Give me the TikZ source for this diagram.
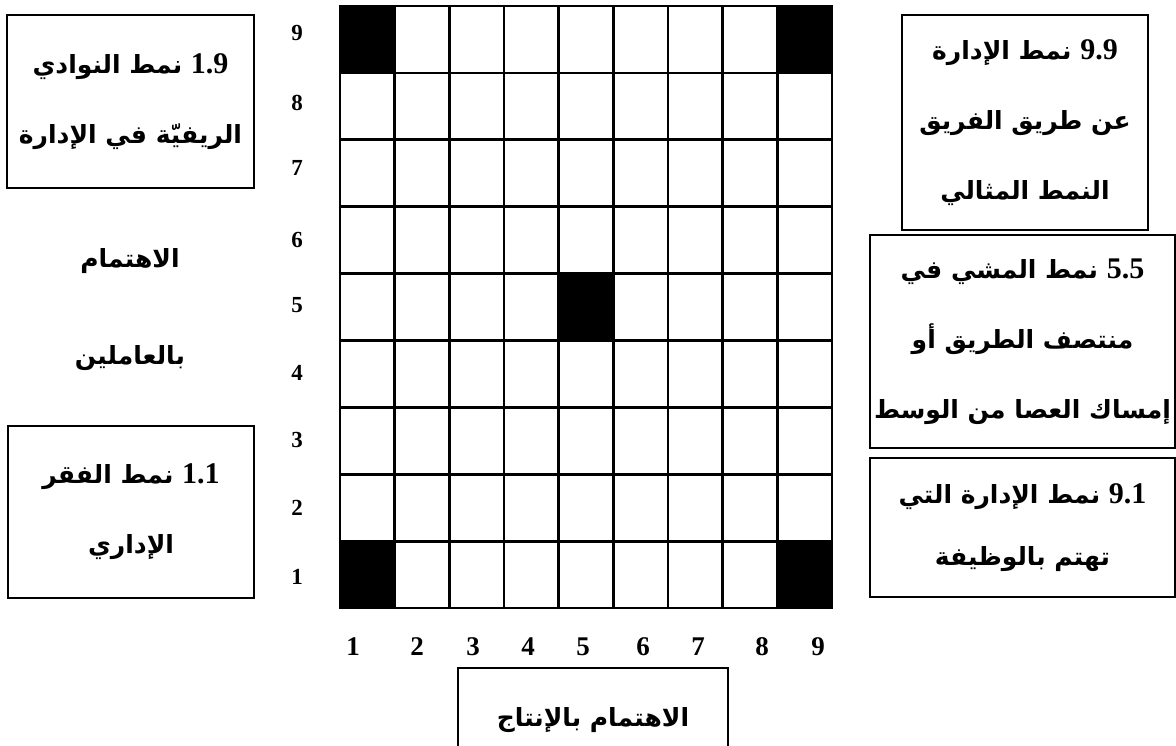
\documentclass[tikz,border=0pt]{standalone}
\usepackage{fontspec}
\setmainfont{Liberation Serif}
\newfontfamily\arabicfont[Script=Arabic]{DejaVu Sans}
\TeXXeTstate=1
\usetikzlibrary{positioning}
\newcommand{\arfont}{\arabicfont\bfseries}
\newcommand{\stylenum}[1]{{\rmfamily\bfseries\fontsize{15}{35}\selectfont\beginL #1\endL}}

\begin{document}
\begin{tikzpicture}[x=0.5pt,y=-0.5pt,
  cell/.style={draw=black,line width=1.35pt,fill=white},
  blackcell/.style={draw=black,line width=1.35pt,fill=black},
  stylebox/.style={draw=black,line width=1pt,inner sep=0pt,align=center,font=\fontsize{12.5}{35}\selectfont},
  axisnum/.style={font=\bfseries\fontsize{11.5}{14}\selectfont},
  colnum/.style={font=\bfseries\fontsize{13.5}{16}\selectfont}]
\useasboundingbox (0,0) rectangle (1176,745);
% grid
\foreach \r in {1,...,9}{\foreach \c in {1,...,9}{
  \pgfmathsetmacro{\x}{340+54.67*(\c-1)}\pgfmathsetmacro{\y}{6+66.9*(9-\r)}
  \draw[cell] (\x,\y) rectangle ++(54.67,66.9);
}}
\foreach \c/\r in {1/9,9/9,5/5,1/1,9/1}{
  \pgfmathsetmacro{\x}{340+54.67*(\c-1)}\pgfmathsetmacro{\y}{6+66.9*(9-\r)}
  \draw[blackcell] (\x,\y) rectangle ++(54.67,66.9);
}
% axis numbers
\foreach \r/\yy in {9/33,8/103,7/168,6/240,5/305,4/373,3/440,2/508,1/577}
  \node[axisnum] (row\r) at (297,\yy){\r};
\foreach \c/\xx in {1/353,2/417,3/473,4/528,5/583,6/643,7/698,8/762,9/818}
  \node[colnum] (col\c) at (\xx,647){\c};
% style boxes
\node[stylebox,minimum width=123.5pt,minimum height=86.5pt] (clubstyle) at (130.5,101.5)
  {{\arfont\beginR\stylenum{1.9} نمط النوادي\endR}\\{\arfont\beginR الريفيّة في الإدارة\endR}};
\node[stylebox,minimum width=123pt,minimum height=86pt] (poorstyle) at (131,512)
  {{\arfont\beginR\stylenum{1.1} نمط الفقر\endR}\\{\arfont\beginR الإداري\endR}};
\node[stylebox,minimum width=123pt,minimum height=107.5pt] (teamstyle) at (1025,122.5)
  {{\arfont\beginR\stylenum{9.9} نمط الإدارة\endR}\\{\arfont\beginR عن طريق الفريق\endR}\\{\arfont\beginR النمط المثالي\endR}};
\node[stylebox,minimum width=152.5pt,minimum height=106.5pt] (middlestyle) at (1022.5,341.5)
  {{\arfont\beginR\stylenum{5.5} نمط المشي في\endR}\\{\arfont\beginR منتصف الطريق أو\endR}\\{\arfont\beginR إمساك العصا من الوسط\endR}};
\node[stylebox,minimum width=152.5pt,minimum height=69.5pt] (taskstyle) at (1022.5,527.5)
  {{\arfont\beginR\stylenum{9.1} نمط الإدارة التي\endR}\\[-4pt]{\arfont\beginR تهتم بالوظيفة\endR}};
\node[stylebox,minimum width=135pt,minimum height=52pt] (prodaxis) at (593,720)
  {{\arfont\beginR الاهتمام بالإنتاج\endR}};
% people axis
\node[font=\fontsize{12.5}{14}\selectfont] (peopleaxisA) at (130,261){{\arfont\beginR الاهتمام\endR}};
\node[font=\fontsize{12.5}{14}\selectfont] (peopleaxisB) at (130,358){{\arfont\beginR بالعاملين\endR}};
\end{tikzpicture}
\end{document}
